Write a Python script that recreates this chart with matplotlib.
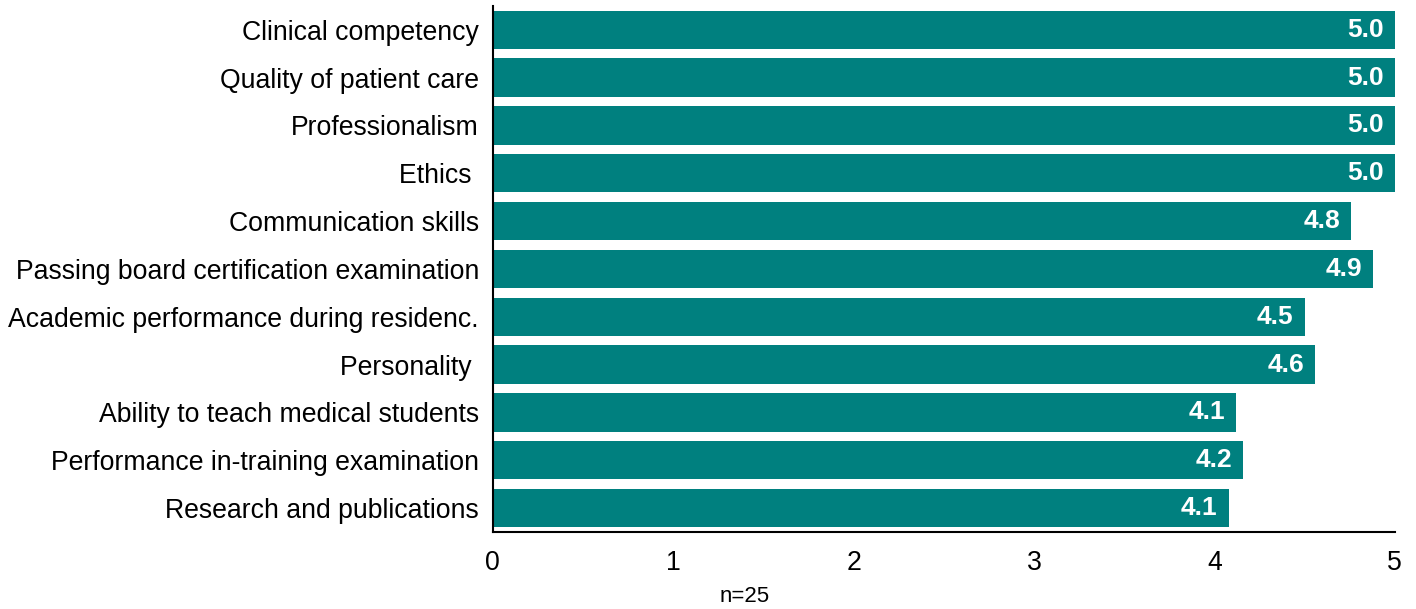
import matplotlib.pyplot as plt

plt.rcParams['font.family'] = ['Liberation Sans', 'DejaVu Sans']

# Datos
categorias = [
    "Clinical competency",
    "Quality of patient care",
    "Professionalism",
    "Ethics ",
    "Communication skills",
    "Passing board certification examination",
    "Academic performance during residenc.",
    "Personality ",
    "Ability to teach medical students",
    "Performance in-training examination",
    "Research and publications",
]
valores = [5.0, 5.0, 5.0, 5.0, 4.76, 4.88, 4.50, 4.56, 4.12, 4.16, 4.08]
etiquetas = ["5.0", "5.0", "5.0", "5.0", "4.8", "4.9", "4.5", "4.6", "4.1", "4.2", "4.1"]

fig = plt.figure(figsize=(14.16, 6.09), dpi=100)
ax = fig.add_axes([0.348, 0.1264, 0.637, 0.864])

pos = range(len(categorias))
barras = ax.barh(pos, valores, height=0.8, color="#00807f")

for b, txt in zip(barras, etiquetas):
    ax.annotate(txt, (b.get_width(), b.get_y() + b.get_height() / 2),
                xytext=(-8, 0), textcoords="offset points",
                ha="right", va="center", color="white",
                fontsize=19, fontweight="bold")

ax.set_yticks(list(pos))
ax.set_yticklabels(categorias, fontsize=19.2)
ax.set_ylim(10.5, -0.5)
ax.set_xlim(0, 5)
ax.set_xticks([0, 1, 2, 3, 4, 5])
ax.tick_params(axis="x", length=0, pad=13, labelsize=19.2)
ax.tick_params(axis="y", length=0, pad=10)

for s in ["top", "right"]:
    ax.spines[s].set_visible(False)
for s in ["left", "bottom"]:
    ax.spines[s].set_linewidth(1.5)

fig.text(745 / 1416, 1 - 597 / 609, "n=25", ha="center", va="center", fontsize=16)

fig.savefig("out.png", dpi=100)
